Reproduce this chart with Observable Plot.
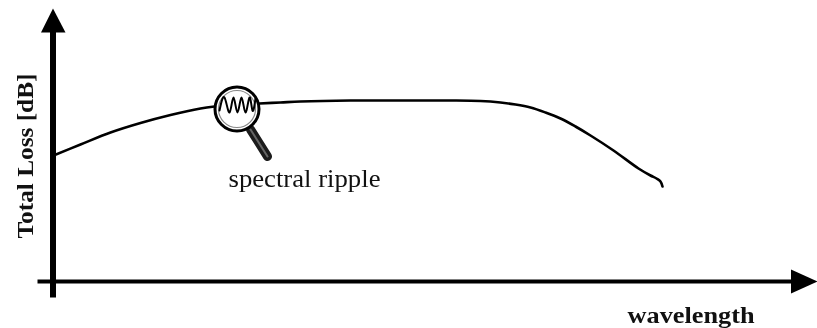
<!DOCTYPE html>
<html>
<head>
<meta charset="utf-8">
<script src="https://cdn.jsdelivr.net/npm/d3@7"></script>
<script src="https://cdn.jsdelivr.net/npm/@observablehq/plot@0.6"></script>
<style>html,body{margin:0;padding:0;background:#fff}svg{display:block;filter:blur(0.6px)}</style>
</head>
<body>
<div id="chart"></div>
<script>
const curveLeft = [[53,173],[80,184],[110,196],[140,205.5],[170,213.5],[200,220],[214,222]];
const curveRight = [[259,225],[280,226],[300,227],[350,228],[400,228],[450,228],[480,227.5],[500,226],[515,224],[530,221],[545,216],[560,210],[575,202],[590,193],[613,178],[638,160],[650,153],[656,150],[660,147],[662,142]];
const ripple = [[219,218],[224,231],[229,216],[233,231],[237,216],[241,231],[245,216],[249,231],[252,218],[255,230]];
const yAxisLine = [[52.5,31],[52.5,297]];
const xAxisLine = [[37,47],[792,47]];
const yArrow = [[40.5,296],[52.5,320],[65,296]];
const xArrow = [[790.5,59],[817,47],[790.5,35]];
const lensCentre = [[236.5,219.5]];
const handle = [[250,199],[267,172]];
const labels = [
  {x: 24.8, y: 172.5, text: "Total Loss [dB]", rotate: -90, size: 22.5, weight: "bold", length: 165},
  {x: 304, y: 149, text: "spectral ripple", rotate: 0, size: 24.5, weight: "normal", length: 152},
  {x: 690.5, y: 12.3, text: "wavelength", rotate: 0, size: 22.5, weight: "bold", length: 127}
];

const line = (pts, o) => Plot.line(pts, {x: d => d[0], y: d => d[1], ...o});
const font = "Liberation Serif";

const chart = Plot.plot({
  width: 817, height: 328,
  margin: 0,
  x: {domain: [0, 817], range: [0, 817], axis: null},
  y: {domain: [0, 328], range: [328, 0], axis: null},
  style: {background: "#fff", fontFamily: font},
  marks: [
    line(curveLeft, {stroke: "#000", strokeWidth: 2.6, curve: "catmull-rom"}),
    line(curveRight, {stroke: "#000", strokeWidth: 2.6, curve: "catmull-rom"}),
    line(yAxisLine, {stroke: "#000", strokeWidth: 6, strokeLinecap: "butt"}),
    line(xAxisLine, {stroke: "#000", strokeWidth: 4, strokeLinecap: "butt"}),
    line(yArrow, {fill: "#000", stroke: "none"}),
    line(xArrow, {fill: "#000", stroke: "none"}),
    line(handle, {stroke: "#1c1c1c", strokeWidth: 9, strokeLinecap: "round"}),
    line(handle, {stroke: "#666", strokeWidth: 2, strokeLinecap: "round"}),
    Plot.dot(lensCentre, {x: d => d[0], y: d => d[1], r: 22, fill: "#fff", stroke: "#000", strokeWidth: 3}),
    Plot.dot(lensCentre, {x: d => d[0], y: d => d[1], r: 18.5, fill: "none", stroke: "#888", strokeWidth: 1.2}),
    line(ripple, {stroke: "#000", strokeWidth: 2, curve: "natural"}),
    ...labels.map(l => Plot.text([l], {x: "x", y: "y", text: "text", rotate: l.rotate, fontSize: l.size, fontWeight: l.weight, fill: "#111"}))
  ]
});
// the reference's lettering is stretched wider than the font: fit each label to its measured length
d3.select(chart).selectAll("text").each(function () {
  const l = labels.find(v => v.text === this.textContent);
  if (l) d3.select(this).attr("textLength", l.length).attr("lengthAdjust", "spacingAndGlyphs");
});
document.getElementById("chart").append(chart);
</script>
</body>
</html>
